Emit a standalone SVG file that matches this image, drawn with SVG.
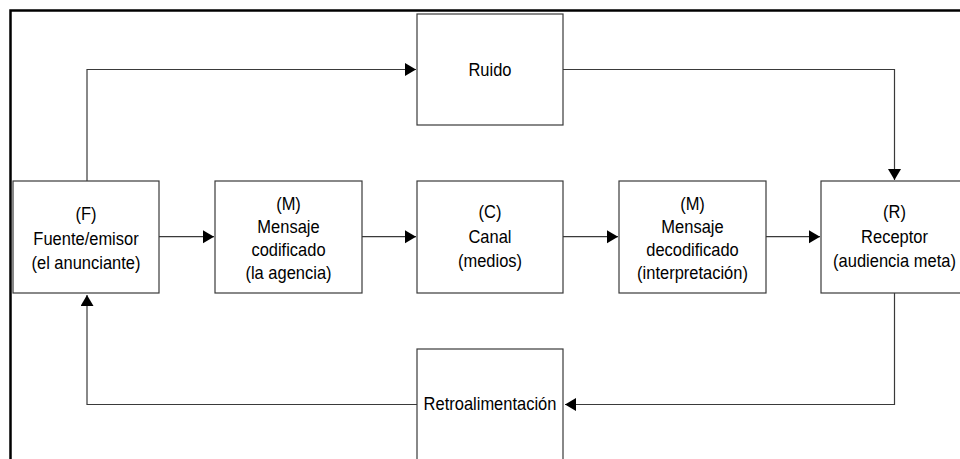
<svg xmlns="http://www.w3.org/2000/svg" width="960" height="459" viewBox="0 0 960 459">
<defs>
<style>
.box{fill:#fff;stroke:#3a3a3a;stroke-width:1.2}
.lbl{font-family:"Liberation Sans",Arial,sans-serif;font-size:16.5px;fill:#000;text-anchor:middle}
.con{fill:none;stroke:#3a3a3a;stroke-width:1.2}
</style>
<marker id="ah" markerUnits="userSpaceOnUse" markerWidth="12" markerHeight="14" refX="11" refY="6.5" orient="auto">
<path d="M0,0 L11,6.5 L0,13 Z" fill="#000"/>
</marker>
</defs>
<rect x="0" y="0" width="960" height="459" fill="#fff"/>
<path d="M10.5,459 V10.5 H960" fill="none" stroke="#000" stroke-width="2.5"/>
<g id="connectors">
<path class="con" d="M87,181 V69.5 H416" marker-end="url(#ah)"/>
<path class="con" d="M563,69.5 H894.5 V180" marker-end="url(#ah)"/>
<path class="con" d="M894.5,293 V404.5 H565" marker-end="url(#ah)"/>
<path class="con" d="M417,404.5 H87 V295" marker-end="url(#ah)"/>
<path class="con" d="M159,236.7 H214" marker-end="url(#ah)"/>
<path class="con" d="M362,236.7 H416" marker-end="url(#ah)"/>
<path class="con" d="M563,236.7 H618" marker-end="url(#ah)"/>
<path class="con" d="M766,236.7 H820" marker-end="url(#ah)"/>
</g>
<g id="ruido">
<rect class="box" x="417" y="14" width="146" height="111"/>
<text class="lbl" transform="translate(490 75.5) scale(1 1.12)">Ruido</text>
</g>
<g id="fuente">
<rect class="box" x="13" y="181" width="146" height="112"/>
<text class="lbl" transform="translate(86 219.5) scale(1 1.12)">(F)</text>
<text class="lbl" transform="translate(86 244.5) scale(1 1.12)">Fuente/emisor</text>
<text class="lbl" transform="translate(86 269) scale(1 1.12)">(el anunciante)</text>
</g>
<g id="mensaje-codificado">
<rect class="box" x="215" y="181" width="147" height="112"/>
<text class="lbl" transform="translate(288.5 210) scale(1 1.12)">(M)</text>
<text class="lbl" transform="translate(288.5 233) scale(1 1.12)">Mensaje</text>
<text class="lbl" transform="translate(288.5 256) scale(1 1.12)">codificado</text>
<text class="lbl" transform="translate(288.5 279) scale(1 1.12)">(la agencia)</text>
</g>
<g id="canal">
<rect class="box" x="417" y="181" width="146" height="112"/>
<text class="lbl" transform="translate(490 218) scale(1 1.12)">(C)</text>
<text class="lbl" transform="translate(490 242.5) scale(1 1.12)">Canal</text>
<text class="lbl" transform="translate(490 267) scale(1 1.12)">(medios)</text>
</g>
<g id="mensaje-decodificado">
<rect class="box" x="619" y="181" width="147" height="112"/>
<text class="lbl" transform="translate(692.5 210) scale(1 1.12)">(M)</text>
<text class="lbl" transform="translate(692.5 233) scale(1 1.12)">Mensaje</text>
<text class="lbl" transform="translate(692.5 256) scale(1 1.12)">decodificado</text>
<text class="lbl" transform="translate(692.5 279) scale(1 1.12)">(interpretación)</text>
</g>
<g id="receptor">
<rect class="box" x="821" y="181" width="147" height="112"/>
<text class="lbl" transform="translate(894.5 218) scale(1 1.12)">(R)</text>
<text class="lbl" transform="translate(894.5 243) scale(1 1.12)">Receptor</text>
<text class="lbl" transform="translate(894.5 267) scale(1 1.12)">(audiencia meta)</text>
</g>
<g id="retroalimentacion">
<rect class="box" x="417" y="349" width="146" height="112"/>
<text class="lbl" transform="translate(490 410) scale(1 1.12)">Retroalimentación</text>
</g>
</svg>
